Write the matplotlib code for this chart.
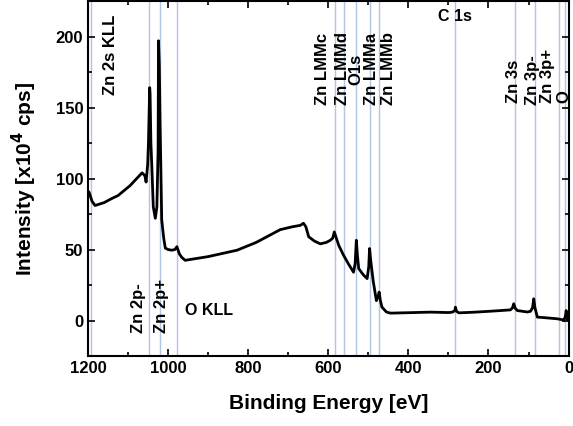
import numpy as np
import matplotlib
matplotlib.use("Agg")
import matplotlib.pyplot as plt

plt.rcParams['font.family'] = ['Liberation Sans', 'DejaVu Sans']
plt.rcParams['font.weight'] = 'bold'

# spectre XPS (énergie de liaison en eV, intensité en 1e4 cps)
energy = [1200, 1197.5, 1190, 1182.5, 1160, 1140, 1125, 1110, 1095, 1080, 1065, 1058, 1055,
          1051, 1049, 1046, 1045, 1043, 1041, 1037, 1032, 1028, 1025, 1024, 1022, 1020,
          1016, 1011, 1007, 1000, 991, 983, 978, 972, 966, 957.5, 900, 828, 780, 720,
          690, 670, 662, 656, 649, 635, 620, 605, 595, 589, 585, 580, 574, 562, 550,
          537, 533, 530, 527, 524, 512, 503, 499, 497, 494, 488, 480, 476, 473, 470,
          466, 455, 445, 400, 345, 300, 290, 284, 282.5, 280, 274, 240, 203, 170, 145,
          140, 137, 133, 128, 103, 95, 90, 87, 84, 78, 60, 40, 28, 15, 12, 8, 6, 4, 3, 0]
intensity = [91, 90.5, 84, 81, 83, 86, 88, 91.5, 95, 99.5, 104, 102, 97.5,
             110, 126, 164, 160, 125, 111, 80, 72, 80, 120, 197, 180, 139,
             71, 58, 51, 50, 49.5, 50, 52, 47, 44.5, 42.4, 45, 49.5, 55, 64,
             66, 67, 68.5, 66, 59, 56, 54, 55, 56.5, 58, 62.4, 58, 53, 46, 40,
             34, 40, 56.5, 45, 36.5, 32, 29.5, 38, 50.7, 42, 28, 14, 17, 20, 14,
             9.4, 6, 5.2, 5.5, 5.9, 5.6, 5.9, 7, 9.4, 6.5, 5.4, 5.8, 6.4, 7, 7.5,
             9, 11.8, 8.5, 7, 6, 6.5, 9, 15.3, 9, 2.4, 2, 1.5, 1.2, 0.5, 0, 3, 7, 2, 0.5, 0]

# positions des raies (eV)
line_pos = [1193, 1047, 1021, 977, 584, 561, 532, 497, 473, 282.5, 135, 85, 24, 8]

# étiquettes verticales : texte, position x (eV), bas du texte (intensité)
vlabels = ['Zn 2s KLL', 'Zn LMMc', 'Zn LMMd', 'O1s', 'Zn LMMa', 'Zn LMMb',
           'Zn 3s', 'Zn 3p-', 'Zn 3p+', 'O', 'Zn 2p-', 'Zn 2p+']
vlabel_x = [1145, 615, 565, 530, 492, 450, 137, 90, 52, 12, 1075, 1017]
vlabel_y = [159, 152, 152, 166, 152, 152, 153, 152, 153, 153, -9, -9]

# étiquettes horizontales
hlabels = ['C 1s', 'O KLL']
hlabel_x = [285, 958]
hlabel_y = [214, 7]

fig = plt.figure(figsize=(5.73, 4.26), dpi=100)
ax = fig.add_axes([0.1536, 0.1643, 0.8394, 0.8333])

for e in line_pos:
    ax.axvline(e, color='#afc6e4', lw=1.0, zorder=1)

ax.plot(energy, intensity, color='black', lw=2.0, zorder=3)

for t, x, y in zip(vlabels, vlabel_x, vlabel_y):
    ax.text(x, y, t, rotation=90, ha='center', va='bottom', fontsize=12, fontweight='bold')
ax.text(hlabel_x[0], hlabel_y[0], hlabels[0], ha='center', va='center', fontsize=11.5, fontweight='bold')
ax.text(hlabel_x[1], hlabel_y[1], hlabels[1], ha='left', va='center', fontsize=11.5, fontweight='bold')

ax.set_xlim(1200, -1)
ax.set_ylim(-25, 225)
ax.set_xticks(np.arange(0, 1201, 200))
ax.set_xticks(np.arange(0, 1201, 100), minor=True)
ax.set_yticks(np.arange(0, 201, 50))
ax.set_yticks(np.arange(-25, 226, 25), minor=True)
ax.tick_params(which='both', direction='in', top=True, right=True, width=1.2, labelsize=12)
ax.tick_params(which='major', length=5)
ax.tick_params(which='minor', length=3)
for lab in ax.get_xticklabels() + ax.get_yticklabels():
    lab.set_fontweight('bold')
for s in ax.spines.values():
    s.set_linewidth(1.5)

ax.set_xlabel('Binding Energy [eV]', fontsize=15, fontweight='bold', labelpad=13)
ax.set_ylabel(r'Intensity [x10$^{4}$ cps]', fontsize=15, fontweight='bold', labelpad=12)

fig.savefig('out.png', dpi=100)
